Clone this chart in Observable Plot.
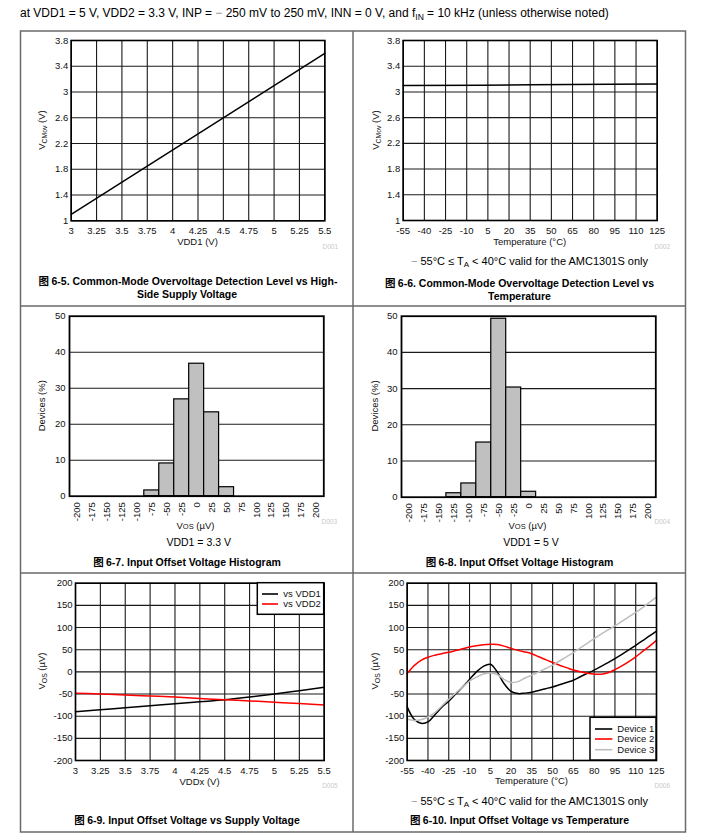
<!DOCTYPE html>
<html><head><meta charset="utf-8">
<script src="https://cdn.jsdelivr.net/npm/d3@7"></script>
<script src="https://cdn.jsdelivr.net/npm/@observablehq/plot@0.6"></script>
<style>
body{margin:0;background:#fff;}
#root{position:relative;width:718px;height:837px;overflow:hidden;}
</style></head><body><div id="root"></div>
<script>
const FONT = "'Liberation Sans', Arial, Helvetica, sans-serif";
const CJK = "'Noto Sans CJK SC', sans-serif";

// ---------- data ----------
// 6-5
const vdd1Pts = [3, 5.5];
const vcmovPts = [1.1, 3.6];
const vddTicks = [3, 3.25, 3.5, 3.75, 4, 4.25, 4.5, 4.75, 5, 5.25, 5.5];
const vcmTicks = [1, 1.4, 1.8, 2.2, 2.6, 3, 3.4, 3.8];
// 6-6
const tempPts2 = [-55, 35, 125];
const vcmovTemp = [3.1, 3.11, 3.125];
const tempTicks = [-55, -40, -25, -10, 5, 20, 35, 50, 65, 80, 95, 110, 125];
// 6-7 / 6-8
const vosBins = [-200, -175, -150, -125, -100, -75, -50, -25, 0, 25, 50, 75, 100, 125, 150, 175, 200];
const hist33 = [0, 0, 0, 0, 0, 1.6, 9.1, 26.9, 36.8, 23.3, 2.5, 0, 0, 0, 0, 0, 0];
const hist5 = [0, 0, 0, 1.1, 3.8, 15.1, 49.3, 30.3, 1.5, 0, 0, 0, 0, 0, 0, 0, 0];
const devTicks = [0, 10, 20, 30, 40, 50];
// 6-9
const vddx = [3, 3.25, 3.5, 3.75, 4, 4.25, 4.5, 4.75, 5, 5.25, 5.5];
const vosVsVdd1 = [-90, -85.5, -81, -76.5, -72, -67.5, -63, -57, -50, -42.5, -35];
const vosVsVdd2 = [-48, -50, -52, -54.5, -57, -60, -63, -65.5, -68.5, -71.5, -75];
const vosTicks = [-200, -150, -100, -50, 0, 50, 100, 150, 200];
// 6-10
const tempC = [-55,-50,-45,-40,-35,-30,-25,-20,-15,-10,-5,0,5,10,15,20,25,30,35,40,45,50,55,60,65,70,75,80,85,90,95,100,105,110,115,120,125];
const device1 = [-79,-107,-116,-113,-97,-80,-66,-50,-34,-17,0,12.5,17,0,-27,-44,-49,-48,-46,-42,-38,-34,-29,-24,-19,-11,-3.5,4,12.5,21,30,39.5,49.5,60,70.5,81,92];
const device2 = [-4,14,26,33,37.5,41,44,48,52,56,59,61,62,61.5,58,53,48.5,45,41,34,27.5,21,15,9.5,4,0,-3,-5,-5.5,-2,5,13.5,23,34,46,58,71];
const device3 = [-107,-109.5,-108,-101.5,-92,-77,-62,-48,-34,-21,-12,-5,-2.5,-6,-17,-24,-22,-14,-7.5,0,7.5,15,24.5,34,43.5,54,64.5,75,85,94.5,104,114,124,134,145,157,169];

// ---------- helpers ----------
const root = document.getElementById("root");
const fmt = d => String(d);
const GRID = {stroke: "#1a1a1a", strokeOpacity: 1, strokeWidth: 1.1};
function place(svg, left, top) {
  svg.style.position = "absolute";
  svg.style.left = left + "px";
  svg.style.top = top + "px";
  root.appendChild(svg);
}
function base(w, h, m) {
  return {
    width: w, height: h,
    marginLeft: m[0], marginRight: m[1], marginTop: m[2], marginBottom: m[3],
    style: {fontFamily: FONT, fontSize: "9.5px", color: "#111", background: "transparent", overflow: "visible"}
  };
}

// 6-5
place(Plot.plot({
  ...base(333, 275, [50.7, 28.7, 9, 85.7]),
  x: {domain: [3, 5.5], ticks: vddTicks, tickSize: 0, tickPadding: 6.5, tickFormat: fmt, label: null},
  y: {domain: [1, 3.8], ticks: vcmTicks, tickSize: 0, tickPadding: 3, tickFormat: fmt, label: null},
  marks: [
    Plot.gridX(vddTicks, GRID), Plot.gridY(vcmTicks, GRID),
    Plot.line(vdd1Pts.map((v, i) => ({x: v, y: vcmovPts[i]})), {x: "x", y: "y", stroke: "#000", strokeWidth: 1.5}),
    Plot.frame({stroke: "#000", strokeWidth: 1.6})
  ]
}), 20, 31);

// 6-6
place(Plot.plot({
  ...base(333, 275, [49.7, 29.3, 9, 86]),
  x: {domain: [-55, 125], ticks: tempTicks, tickSize: 0, tickPadding: 6.5, tickFormat: fmt, label: null},
  y: {domain: [1, 3.8], ticks: vcmTicks, tickSize: 0, tickPadding: 3, tickFormat: fmt, label: null},
  marks: [
    Plot.gridX(tempTicks, GRID), Plot.gridY(vcmTicks, GRID),
    Plot.line(tempPts2.map((v, i) => ({x: v, y: vcmovTemp[i]})), {x: "x", y: "y", stroke: "#000", strokeWidth: 1.5, curve: "monotone-x"}),
    Plot.frame({stroke: "#000", strokeWidth: 1.6})
  ]
}), 353, 31);

// histograms
function hist(vals, left, top, m) {
  const data = vosBins.map((c, i) => ({c, v: vals[i]})).filter(d => d.v > 0);
  place(Plot.plot({
    ...base(333, 267, m),
    x: {domain: [-212.5, 212.5], ticks: vosBins, tickSize: 0, tickPadding: 6, tickRotate: -90, tickFormat: fmt, label: null},
    y: {domain: [0, 50], ticks: devTicks, tickSize: 0, tickPadding: 4, tickFormat: fmt, label: null},
    marks: [
      Plot.gridY([10, 20, 30, 40], GRID),
      Plot.rect(data, {x1: d => d.c - 12.5, x2: d => d.c + 12.5, y1: 0, y2: "v", fill: "#c0c0c0", stroke: "#000", strokeWidth: 1.2}),
      Plot.frame({stroke: "#000", strokeWidth: 1.8})
    ]
  }), left, top);
}
hist(hist33, 20, 306, [49, 29.7, 9.7, 77.3]);
hist(hist5, 353, 306, [48, 30.7, 9.7, 76.3]);

// 6-9
const vddRows = vddx.flatMap((v, i) => [{x: v, y: vosVsVdd1[i], s: "vs VDD1"}, {x: v, y: vosVsVdd2[i], s: "vs VDD2"}]);
place(Plot.plot({
  ...base(333, 259, [55, 29.3, 9.7, 72]),
  x: {domain: [3, 5.5], ticks: vddTicks, tickSize: 0, tickPadding: 6.5, tickFormat: fmt, label: null},
  y: {domain: [-200, 200], ticks: vosTicks, tickSize: 0, tickPadding: 3, tickFormat: fmt, label: null},
  color: {domain: ["vs VDD1", "vs VDD2"], range: ["#000", "#ff0000"]},
  marks: [
    Plot.gridX(vddTicks, GRID), Plot.gridY(vosTicks, GRID),
    Plot.line(vddRows, {x: "x", y: "y", z: "s", stroke: "s", strokeWidth: 1.5, curve: "monotone-x"}),
    Plot.frame({stroke: "#000", strokeWidth: 1.6})
  ]
}), 20, 573);

// 6-10
const devNames = ["Device 1", "Device 2", "Device 3"];
const devVals = [device1, device2, device3];
const tempRows = devNames.flatMap((n, k) => tempC.map((t, i) => ({x: t, y: devVals[k][i], s: n})));
place(Plot.plot({
  ...base(333, 259, [53.7, 30, 9.7, 72]),
  x: {domain: [-55, 125], ticks: tempTicks, tickSize: 0, tickPadding: 6.5, tickFormat: fmt, label: null},
  y: {domain: [-200, 200], ticks: vosTicks, tickSize: 0, tickPadding: 3, tickFormat: fmt, label: null},
  color: {domain: devNames, range: ["#000", "#ff0000", "#bdbdbd"]},
  marks: [
    Plot.gridX(tempTicks, GRID), Plot.gridY(vosTicks, GRID),
    Plot.line(tempRows, {x: "x", y: "y", z: "s", stroke: "s", strokeWidth: 1.5, curve: "catmull-rom"}),
    Plot.frame({stroke: "#000", strokeWidth: 1.6})
  ]
}), 353, 573);

// ---------- overlay: page frame, labels, captions, legends ----------
const ov = d3.select(root).append("svg").attr("width", 718).attr("height", 837)
  .style("position", "absolute").style("left", 0).style("top", 0).style("pointer-events", "none")
  .attr("font-family", FONT);

ov.append("rect").attr("x", 20.5).attr("y", 31).attr("width", 665).attr("height", 801)
  .attr("fill", "none").attr("stroke", "#6a6a6a").attr("stroke-width", 1.5);
ov.append("line").attr("x1", 353).attr("x2", 353).attr("y1", 31).attr("y2", 832).attr("stroke", "#6a6a6a").attr("stroke-width", 1.5);
[306, 573].forEach(y => ov.append("line").attr("x1", 20.5).attr("x2", 685.5).attr("y1", y).attr("y2", y).attr("stroke", "#6a6a6a").attr("stroke-width", 1.5));

function txt(x, y, parts, o = {}) {
  const size = o.size || 9.5;
  const t = ov.append("text").attr("x", x).attr("y", y).attr("font-size", size)
    .attr("text-anchor", o.anchor || "middle").attr("font-weight", o.weight || "normal")
    .attr("fill", o.fill || "#111");
  if (o.rotate) t.attr("transform", `rotate(-90 ${x} ${y})`);
  let cur = 0;
  for (const p of parts) {
    const q = typeof p === "string" ? {t: p} : p;
    const s = t.append("tspan").text(q.t);
    const off = q.sub ? (q.dy != null ? q.dy : 2.2) : 0;
    if (off - cur !== 0) s.attr("dy", off - cur);
    cur = off;
    if (q.sub) s.attr("font-size", q.size || size * 0.72);
    if (q.fill) s.attr("fill", q.fill);
    if (q.family) s.attr("font-family", q.family);
  }
  return t;
}

// header
txt(20, 17, ["at VDD1 = 5 V, VDD2 = 3.3 V, INP = ", {t: "\u2212", fill: "#8a8a8a"}, " 250 mV to 250 mV, INN = 0 V, and f", {t: "IN", sub: true, dy: 2.5, size: 8.5}, " = 10 kHz (unless otherwise noted)"], {anchor: "start", size: 12, fill: "#000"});

const fig = () => ({t: "\u56fe ", family: CJK});
const note = ["\u2212 ", "55\u00b0C \u2264 T", {t: "A", sub: true, size: 8}, " < 40\u00b0C valid for the AMC1301S only"];
const CAP = {size: 10.5, weight: "bold", fill: "#000"};
const C1 = 187, C2 = 519.5;

// 6-5
txt(45, 130, ["V", {t: "CMov", sub: true}, " (V)"], {rotate: true});
txt(197.5, 244.5, ["VDD1 (V)"]);
txt(338, 249, ["D001"], {anchor: "end", size: 6.5, fill: "#c8c8c8"});
txt(C1 + 1, 285, [fig(), "6-5. Common-Mode Overvoltage Detection Level vs High-"], CAP);
txt(C1, 298, ["Side Supply Voltage"], CAP);

// 6-6
txt(378.5, 130, ["V", {t: "CMov", sub: true}, " (V)"], {rotate: true});
txt(529.7, 244.5, ["Temperature (\u00b0C)"]);
txt(670, 249, ["D002"], {anchor: "end", size: 6.5, fill: "#c8c8c8"});
const n2 = txt(529.5, 264.5, note, {size: 11, fill: "#000"});
n2.select("tspan").attr("fill", "#9a9a9a");
txt(C2, 286.5, [fig(), "6-6. Common-Mode Overvoltage Detection Level vs"], CAP);
txt(C2, 299.5, ["Temperature"], CAP);

// 6-7
txt(45.5, 405.7, ["Devices (%)"], {rotate: true});
txt(195.5, 528.5, ["V", {t: "OS", sub: true, dy: 0.8, size: 7.5}, " (\u00b5V)"]);
txt(337, 524, ["D003"], {anchor: "end", size: 6.5, fill: "#c8c8c8"});
txt(198.7, 545.5, ["VDD1 = 3.3 V"], {size: 10.5, fill: "#000"});
txt(C1, 566, [fig(), "6-7. Input Offset Voltage Histogram"], CAP);

// 6-8
txt(377.5, 406, ["Devices (%)"], {rotate: true});
txt(527.5, 528.5, ["V", {t: "OS", sub: true, dy: 0.8, size: 7.5}, " (\u00b5V)"]);
txt(670, 524, ["D004"], {anchor: "end", size: 6.5, fill: "#c8c8c8"});
txt(531, 546, ["VDD1 = 5 V"], {size: 10.5, fill: "#000"});
txt(C2, 566, [fig(), "6-8. Input Offset Voltage Histogram"], CAP);

// 6-9
txt(45, 671, ["V", {t: "OS", sub: true}, " (\u00b5V)"], {rotate: true});
txt(199.5, 784.5, ["VDDx (V)"]);
txt(337.7, 788, ["D005"], {anchor: "end", size: 6.5, fill: "#c8c8c8"});
txt(C1, 823.5, [fig(), "6-9. Input Offset Voltage vs Supply Voltage"], CAP);

// 6-10
txt(377.5, 671, ["V", {t: "OS", sub: true}, " (\u00b5V)"], {rotate: true});
txt(531.5, 784, ["Temperature (\u00b0C)"]);
txt(670, 788, ["D006"], {anchor: "end", size: 6.5, fill: "#c8c8c8"});
const n6 = txt(529.5, 804.5, note, {size: 11, fill: "#000"});
n6.select("tspan").attr("fill", "#9a9a9a");
txt(C2, 824, [fig(), "6-10. Input Offset Voltage vs Temperature"], CAP);

// legends
function legend(x0, y0, x1, y1, names, colors, rows, lx0, lx1, tx) {
  ov.append("rect").attr("x", x0).attr("y", y0).attr("width", x1 - x0).attr("height", y1 - y0)
    .attr("fill", "#fff").attr("stroke", "#000").attr("stroke-width", 1.5);
  names.forEach((n, i) => {
    ov.append("line").attr("x1", lx0).attr("x2", lx1).attr("y1", rows[i]).attr("y2", rows[i])
      .attr("stroke", colors[i]).attr("stroke-width", 1.6);
    txt(tx, rows[i] + 3.4, [n], {anchor: "start"});
  });
}
legend(257.3, 582.7, 323.7, 614.3, ["vs VDD1", "vs VDD2"], ["#000", "#ff0000"], [594, 604], 262, 278, 283.3);
legend(590, 717.3, 656, 760, devNames, ["#000", "#ff0000", "#bdbdbd"], [729, 739, 749.7], 595, 612.3, 617.3);
</script></body></html>
